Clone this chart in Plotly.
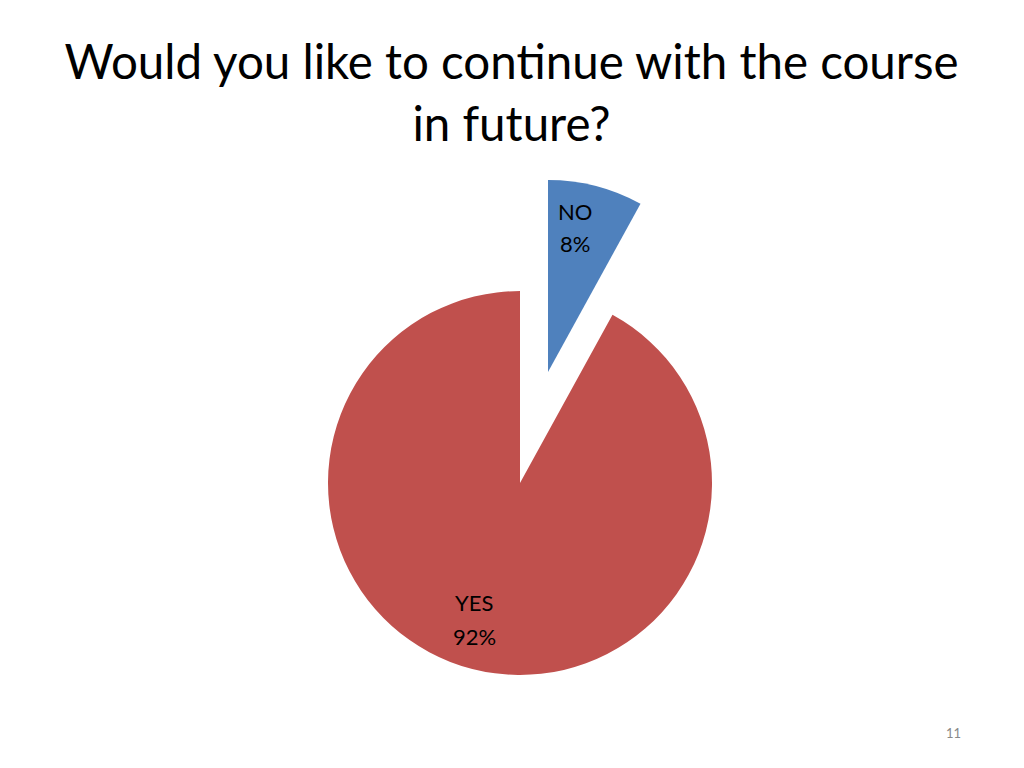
import plotly.graph_objects as go

# Data
labels = ["NO", "YES"]
values = [8, 92]
colors = ["#4F81BD", "#C0504D"]
title_text = "Would you like to continue with the course<br>in future?"
page_number = "11"

# Figure size (page body has an 8px margin in the browser)
W, H = 1016, 760
FONT = "Lato, Calibri, Carlito, sans-serif"

total = sum(values)
pcts = [f"{round(100 * v / total)}%" for v in values]

fig = go.Figure()

# Main pie (YES slice shown, NO slot left empty where it was exploded from)
fig.add_trace(go.Pie(
    labels=labels, values=values, sort=False, direction="clockwise", rotation=0,
    marker=dict(colors=["rgba(0,0,0,0)", colors[1]], line=dict(width=0)),
    textinfo="none",
    domain=dict(x=[320 / W, 704 / W], y=[93 / H, 477 / H]),
    showlegend=False, hoverinfo="label+percent",
))

# Exploded NO slice
fig.add_trace(go.Pie(
    labels=labels, values=values, sort=False, direction="clockwise", rotation=0,
    marker=dict(colors=[colors[0], "rgba(0,0,0,0)"], line=dict(width=0)),
    textinfo="none",
    domain=dict(x=[348 / W, 732 / W], y=[204 / H, 588 / H]),
    showlegend=False, hoverinfo="label+percent",
))

# Data label positions (pixels in figure, top-left origin): name line, percent line
label_pos = {"NO": ((567, 204), (567, 235)), "YES": ((466, 594), (466, 628))}

annotations = []
for lab, pct in zip(labels, pcts):
    (x1, y1), (x2, y2) = label_pos[lab]
    for txt, (x, y) in ((lab, (x1, y1)), (pct, (x2, y2))):
        annotations.append(dict(text=txt, x=x / W, y=1 - y / H, xref="paper", yref="paper",
                                xanchor="center", yanchor="middle", showarrow=False,
                                font=dict(family=FONT, size=22, color="black")))

annotations.append(dict(text=page_number, x=945 / W, y=1 - 725 / H, xref="paper", yref="paper",
                        xanchor="center", yanchor="middle", showarrow=False,
                        font=dict(family=FONT, size=13, color="#898989")))

fig.update_layout(
    width=W, height=H,
    margin=dict(l=0, r=0, t=0, b=0),
    paper_bgcolor="white", plot_bgcolor="white",
    title=dict(text=title_text, x=503.5 / W, xanchor="center", y=0.906, yanchor="top",
               yref="container", font=dict(family=FONT, size=47.5, color="black")),
    annotations=annotations,
)

fig.write_html("out.html")
